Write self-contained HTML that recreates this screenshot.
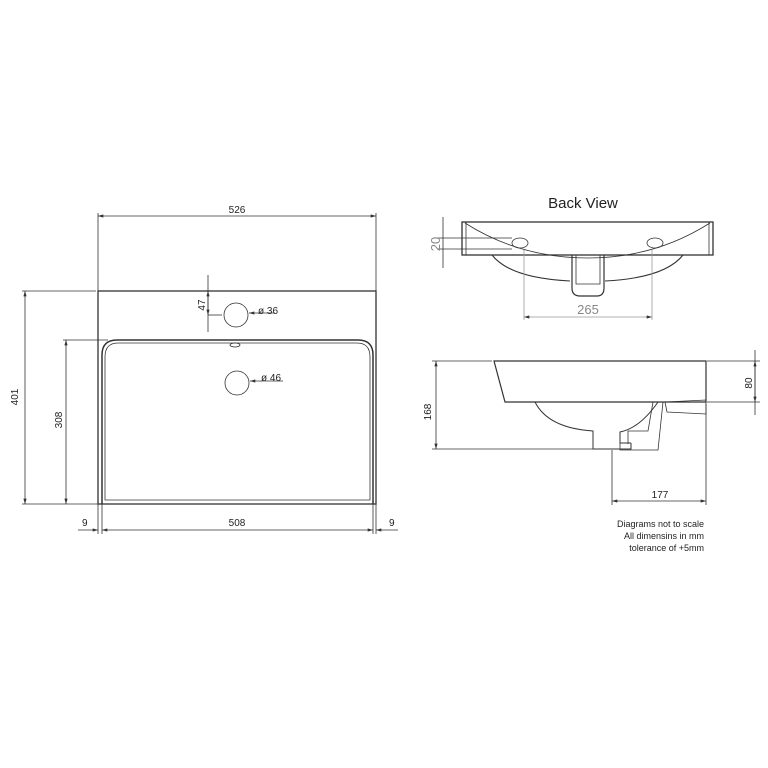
<!DOCTYPE html>
<html><head><style>body{margin:0;background:#fff}svg{display:block}</style></head><body>
<svg width="768" height="768" viewBox="0 0 768 768" xmlns="http://www.w3.org/2000/svg" font-family="Liberation Sans, sans-serif">
<defs><marker id="a" viewBox="0 0 10 6" refX="10" refY="3" markerWidth="8" markerHeight="4" orient="auto-start-reverse"><path d="M0,0L10,3L0,6z" fill="#333"/></marker></defs>
<g stroke="#333" fill="none" stroke-width="0.8">
<!-- plan view -->
<rect x="98" y="291" width="278" height="213" stroke-width="1.3"/>
<path d="M102,504 V355 Q102,340 117,340 H358 Q373,340 373,355 V504" stroke-width="1.5"/>
<path d="M105,500 V357 Q105,343 118,343 H357 Q370,343 370,357 V500 Z"/>
<ellipse cx="235" cy="345" rx="5" ry="2"/>
<circle cx="236" cy="315" r="12"/>
<circle cx="237" cy="383" r="12"/>
<line x1="98" y1="291" x2="98" y2="213"/><line x1="376" y1="291" x2="376" y2="213"/>
<line x1="98" y1="216" x2="376" y2="216" marker-start="url(#a)" marker-end="url(#a)"/>
<line x1="22" y1="291" x2="96" y2="291"/><line x1="22" y1="504" x2="98" y2="504"/>
<line x1="25" y1="291" x2="25" y2="504" marker-start="url(#a)" marker-end="url(#a)"/>
<line x1="63" y1="340" x2="108" y2="340"/>
<line x1="66" y1="340" x2="66" y2="504" marker-start="url(#a)" marker-end="url(#a)"/>
<line x1="208" y1="275" x2="208" y2="332"/><line x1="208" y1="315" x2="222" y2="315"/>
<line x1="208" y1="291" x2="208" y2="315" marker-start="url(#a)" marker-end="url(#a)"/>
<line x1="275" y1="313" x2="249" y2="313" marker-end="url(#a)"/>
<line x1="283" y1="381" x2="250" y2="381" marker-end="url(#a)"/>
<line x1="98" y1="504" x2="98" y2="534"/><line x1="102" y1="504" x2="102" y2="534"/>
<line x1="373" y1="504" x2="373" y2="534"/><line x1="376" y1="504" x2="376" y2="534"/>
<line x1="102" y1="530" x2="373" y2="530" marker-start="url(#a)" marker-end="url(#a)"/>
<line x1="78" y1="530" x2="98" y2="530" marker-end="url(#a)"/>
<line x1="398" y1="530" x2="376" y2="530" marker-end="url(#a)"/>
<!-- back view -->
<rect x="462" y="222" width="251" height="33" stroke-width="1.3"/>
<line x1="466" y1="222" x2="466" y2="255"/><line x1="709" y1="222" x2="709" y2="255"/>
<path d="M465,223 Q520,258 588,258 Q655,258 710,223"/>
<path d="M492,255 Q510,278 570,281 M605,281 Q665,278 683,255" stroke-width="1.1"/>
<path d="M572,255 V288 Q572,296 580,296 H597 Q604,296 604,288 V255" stroke-width="1.2"/>
<path d="M576,255 V284 H600 V255"/>
<ellipse cx="520" cy="243" rx="8" ry="5"/><ellipse cx="655" cy="243" rx="8" ry="5"/>
<line x1="443" y1="217" x2="443" y2="268"/>
<line x1="437" y1="238" x2="512" y2="238"/><line x1="437" y1="249" x2="512" y2="249"/>
<line x1="524" y1="250" x2="524" y2="320" stroke="#999"/><line x1="652" y1="250" x2="652" y2="320" stroke="#999"/>
<line x1="524" y1="317" x2="652" y2="317" stroke="#999" marker-start="url(#a)" marker-end="url(#a)"/>
<!-- side view -->
<path d="M494,361 H706 V402 H505 Z" stroke-width="1.2"/>
<path d="M535,402 Q548,428 593,431 V449 H631 V443 M631,443 H620 V432 Q640,428 658,402" stroke-width="1"/>
<path d="M653,402 L648,431 H628 V444 M663,402 L658,450 H620 V443"/>
<path d="M665,402 L706,400 V414 L667,412 Z"/>
<line x1="707" y1="361" x2="760" y2="361"/><line x1="707" y1="402" x2="760" y2="402"/>
<line x1="755" y1="350" x2="755" y2="415"/>
<line x1="755" y1="361" x2="755" y2="402" marker-start="url(#a)" marker-end="url(#a)"/>
<line x1="432" y1="361" x2="492" y2="361"/><line x1="432" y1="449" x2="593" y2="449"/>
<line x1="436" y1="361" x2="436" y2="449" marker-start="url(#a)" marker-end="url(#a)"/>
<line x1="612" y1="450" x2="612" y2="505"/><line x1="706" y1="404" x2="706" y2="505"/>
<line x1="612" y1="501" x2="706" y2="501" marker-start="url(#a)" marker-end="url(#a)"/>
</g>
<g fill="#222" font-size="10">
<text x="237" y="213" text-anchor="middle">526</text>
<text x="237" y="526" text-anchor="middle">508</text>
<text x="82" y="526">9</text><text x="389" y="526">9</text>
<text x="258" y="314">ø 36</text><text x="261" y="381">ø 46</text>
<text transform="translate(18,397) rotate(-90)" text-anchor="middle">401</text>
<text transform="translate(62,420) rotate(-90)" text-anchor="middle">308</text>
<text transform="translate(205,305) rotate(-90)" text-anchor="middle">47</text>
<text x="583" y="208" font-size="15" text-anchor="middle">Back View</text>
<text transform="translate(440,244) rotate(-90)" text-anchor="middle" font-size="13" fill="#888">20</text>
<text x="588" y="314" text-anchor="middle" font-size="13" fill="#888">265</text>
<text transform="translate(431,412) rotate(-90)" text-anchor="middle">168</text>
<text transform="translate(752,383) rotate(-90)" text-anchor="middle">80</text>
<text x="660" y="498" text-anchor="middle">177</text>
<text x="704" y="527" text-anchor="end" font-size="9">Diagrams not to scale</text>
<text x="704" y="539" text-anchor="end" font-size="9">All dimensins in mm</text>
<text x="704" y="551" text-anchor="end" font-size="9">tolerance of +5mm</text>
</g>
</svg>
</body></html>
